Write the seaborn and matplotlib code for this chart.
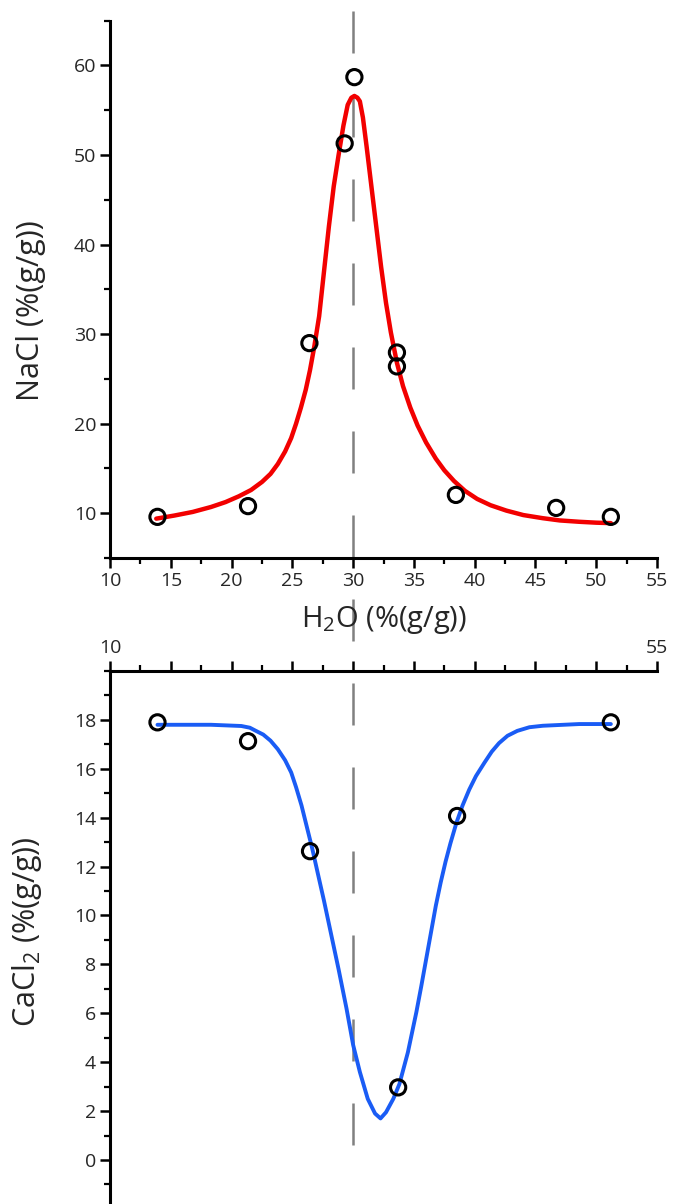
import numpy as np
import pandas as pd
import seaborn as sns
import matplotlib.pyplot as plt
from matplotlib.ticker import MultipleLocator, FixedLocator

# measured points (water content vs salt content)
nacl_water = [13.9, 21.35, 26.4, 29.3, 30.1, 33.6, 33.6, 38.45, 46.7, 51.2]
nacl_conc = [9.6, 10.8, 29.0, 51.3, 58.7, 27.95, 26.4, 12.05, 10.6, 9.6]

cacl2_water = [13.9, 21.35, 26.45, 33.7, 38.55, 51.2]
cacl2_conc = [17.9, 17.13, 12.63, 2.97, 14.07, 17.9]

# fitted curves
nacl_fit_water = [13.8, 15.3, 16.8, 18.3, 19.5, 20.6, 21.6, 22.5, 23.2, 23.8, 24.4,
                  24.9, 25.3, 25.7, 26.1, 26.45, 26.8, 27.2, 27.6, 28.0, 28.4, 28.8,
                  29.2, 29.55, 29.85, 30.1, 30.35, 30.55, 30.8, 31.1, 31.5, 31.9,
                  32.3, 32.7, 33.1, 33.6, 34.1, 34.7, 35.3, 36.0, 36.8, 37.5, 38.3,
                  39.2, 40.2, 41.3, 42.6, 44.0, 45.6, 47.0, 48.6, 50.0, 51.2]
nacl_fit_conc = [9.4, 9.75, 10.15, 10.7, 11.25, 11.9, 12.6, 13.5, 14.4, 15.5, 16.9,
                 18.4, 20.0, 21.8, 23.8, 26.0, 28.6, 32.0, 37.0, 42.0, 46.5, 50.0,
                 53.3, 55.6, 56.4, 56.6, 56.4, 56.0, 54.2, 51.0, 46.5, 42.0,
                 37.5, 33.5, 30.2, 26.8, 24.2, 21.8, 19.8, 17.9, 16.1, 14.8, 13.6,
                 12.5, 11.6, 10.9, 10.3, 9.8, 9.45, 9.2, 9.05, 8.95, 8.9]

cacl2_fit_water = [13.9, 18.3, 20.8, 21.5, 22.0, 22.6, 23.2, 23.8, 24.4, 24.9, 25.3,
                   25.75, 26.2, 26.65, 27.1, 27.6, 28.2, 28.8, 29.45, 30.0, 30.55,
                   31.2, 31.8, 32.25, 32.7, 33.3, 33.8, 34.5, 35.2, 35.6, 36.0,
                   36.4, 36.8, 37.2, 37.6, 38.0, 38.5, 39.0, 39.55, 40.1, 40.8,
                   41.4, 42.0, 42.7, 43.5, 44.5, 45.6, 48.6, 51.2]
cacl2_fit_conc = [17.8, 17.8, 17.75, 17.68, 17.55, 17.4, 17.15, 16.8, 16.35, 15.85, 15.25,
                  14.5, 13.6, 12.7, 11.7, 10.6, 9.2, 7.8, 6.2, 4.7, 3.6,
                  2.5, 1.9, 1.7, 1.95, 2.5, 3.1, 4.4, 6.05, 7.1, 8.2,
                  9.3, 10.4, 11.35, 12.2, 12.95, 13.8, 14.5, 15.15, 15.7, 16.25,
                  16.7, 17.05, 17.35, 17.55, 17.7, 17.76, 17.83, 17.83]

peak_water = 30

sns.set_style("ticks")
plt.rcParams['font.family'] = ['Open Sans', 'DejaVu Sans']
plt.rcParams['mathtext.default'] = 'regular'
plt.rcParams['axes.linewidth'] = 2.2

fig = plt.figure(figsize=(6.88, 12.04), dpi=100)
ax1 = fig.add_axes([0.160, 0.5365, 0.795, 0.4463])
ax2 = fig.add_axes([0.160, 0.0, 0.795, 0.4427])
ax1.set_zorder(2)
ax1.patch.set_alpha(0)
ax2.set_zorder(1)

# top panel: NaCl
sns.lineplot(x=nacl_fit_water, y=nacl_fit_conc, sort=False, estimator=None,
             color='#f20000', lw=3.2, ax=ax1, zorder=3)
sns.scatterplot(x=nacl_water, y=nacl_conc, marker='o', s=120, color='none',
                edgecolor='black', linewidth=2.2, ax=ax1, zorder=4)
ax1.set_xlim(10, 55)
ax1.set_ylim(5, 65)
ax1.xaxis.set_major_locator(MultipleLocator(5))
ax1.xaxis.set_minor_locator(MultipleLocator(2.5))
ax1.yaxis.set_major_locator(FixedLocator([10, 20, 30, 40, 50, 60]))
ax1.yaxis.set_minor_locator(MultipleLocator(5))
for s in ['top', 'right']:
    ax1.spines[s].set_visible(False)
ax1.set_xlabel('H$_2$O (%(g/g))', fontsize=21, labelpad=10)
ax1.set_ylabel('NaCl (%(g/g))', fontsize=22)
ax1.yaxis.set_label_coords(-0.117, 0.46)

# bottom panel: CaCl2
ax2.axvline(peak_water, ymin=0.11, ymax=2.3, clip_on=False, color='#808080',
            lw=1.8, dashes=(16.8, 16.8), zorder=1)
sns.lineplot(x=cacl2_fit_water, y=cacl2_fit_conc, sort=False, estimator=None,
             color='#1a5cf5', lw=2.8, ax=ax2, zorder=3)
sns.scatterplot(x=cacl2_water, y=cacl2_conc, marker='o', s=120, color='none',
                edgecolor='black', linewidth=2.2, ax=ax2, zorder=4)
ax2.set_xlim(10, 55)
ax2.set_ylim(-1.8, 20)
ax2.xaxis.set_minor_locator(MultipleLocator(2.5))
ax2.set_xticks([10, 15, 20, 25, 30, 35, 40, 45, 50, 55],
               ['10', '', '', '', '', '', '', '', '', '55'])
ax2.yaxis.set_major_locator(FixedLocator(list(range(0, 20, 2))))
ax2.yaxis.set_minor_locator(MultipleLocator(1))
ax2.xaxis.tick_top()
for s in ['bottom', 'right']:
    ax2.spines[s].set_visible(False)
ax2.set_xlabel('')
ax2.set_ylabel('CaCl$_2$ (%(g/g))', fontsize=22)
ax2.yaxis.set_label_coords(-0.12, 0.51)

for ax in (ax1, ax2):
    ax.tick_params(which='major', direction='out', length=7, width=1.8,
                   labelsize=14, pad=3, color='black')
    ax.tick_params(which='minor', direction='out', length=4, width=1.6, color='black')
    for sp in ax.spines.values():
        sp.set_color('black')

fig.savefig('out.png', dpi=100)
